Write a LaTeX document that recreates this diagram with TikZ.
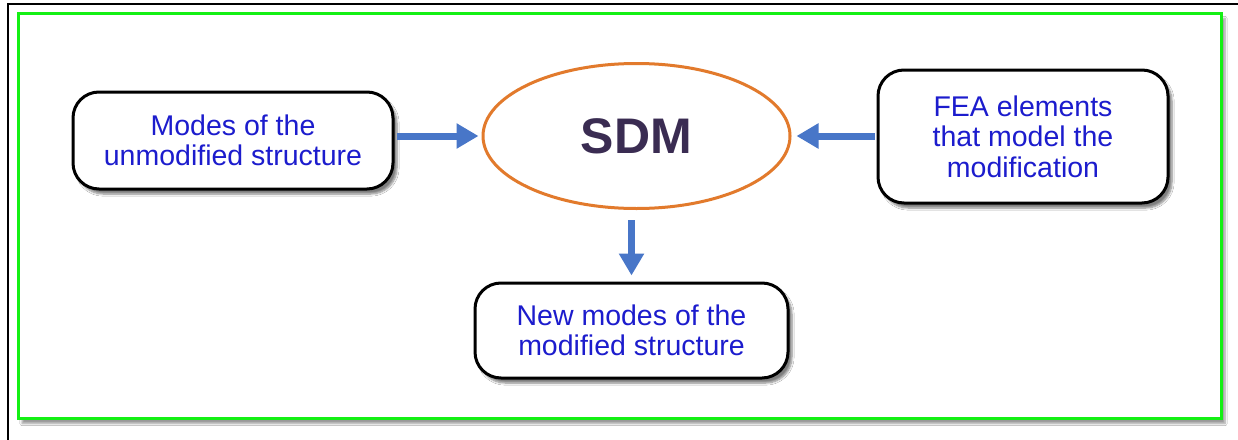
\documentclass[tikz,border=0pt]{standalone}
\usepackage{fontspec}
\setmainfont{Liberation Sans}
\usetikzlibrary{arrows.meta,shapes.geometric,shadows.blur}
\definecolor{txtblue}{RGB}{28,28,205}
\definecolor{sdmtxt}{RGB}{58,44,82}
\definecolor{ellorange}{RGB}{226,122,44}
\definecolor{arrblue}{RGB}{72,118,200}
\definecolor{framegreen}{RGB}{20,240,20}
\tikzset{
  box/.style={draw=black, line width=3pt, rounded corners=26pt, fill=white,
    align=center, text=txtblue, font=\fontsize{28.5}{30.5}\selectfont,
    inner sep=0pt, blur shadow={shadow xshift=4pt, shadow yshift=-5pt, shadow blur steps=6, shadow opacity=50}},
  sdm/.style={ellipse, draw=ellorange, line width=3pt, fill=white, inner sep=0pt,
    text=sdmtxt, font=\fontsize{50}{54}\selectfont\bfseries},
  arr/.style={draw=arrblue, line width=7pt, -{Triangle[length=22pt,width=24pt]}},
}
\begin{document}
\begin{tikzpicture}[x=1pt,y=-1pt]
\useasboundingbox (0,0) rectangle (1238,439);
\fill[white] (0,0) rectangle (1238,439);
\begin{scope}
\clip (0,0) rectangle (1238,439);
\draw[black, line width=2.5pt] (8,4) rectangle (1250,450);
\end{scope}
\node[draw=framegreen, line width=3pt, fill=white, minimum width=1203pt, minimum height=405pt,
  blur shadow={shadow xshift=4pt, shadow yshift=-5pt, shadow blur steps=6, shadow opacity=40}] (G) at (619.5,216) {};
\node[box, minimum width=320pt, minimum height=97pt] (L) at (233,140.5) {Modes of the\\unmodified structure};
\node[box, minimum width=290pt, minimum height=133pt] (R) at (1023,136.5) {FEA elements\\that model the\\modification};
\node[box, minimum width=313pt, minimum height=95pt] (B) at (631.5,330.5) {New modes of the\\modified structure};
\node[sdm, minimum width=307pt, minimum height=145pt] (S) at (636.5,136) {SDM};
\draw[arr, shorten <=2pt, shorten >=3pt] (L.east |- S.west) -- (S.west);
\draw[arr, shorten <=2pt, shorten >=5pt] (R.west |- S.east) -- (S.east);
\draw[arr, shorten <=10pt, shorten >=6pt] (S.south -| B.north) -- (B.north);
\end{tikzpicture}
\end{document}
